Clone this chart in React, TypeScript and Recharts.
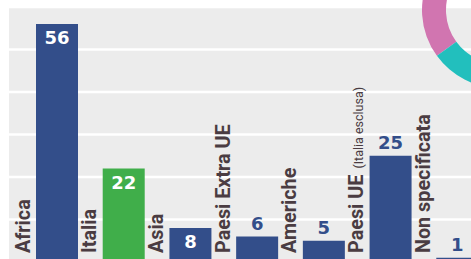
import React from 'react';
import { BarChart, Bar, XAxis, YAxis, CartesianGrid, LabelList, Cell, PieChart, Pie } from 'recharts';

const categories = ['Africa', 'Italia', 'Asia', 'Paesi Extra UE', 'Americhe', 'Paesi UE', 'Non specificata'];
const notes = ['', '', '', '', '', '(Italia esclusa)', ''];
const counts = [56, 22, 8, 6, 5, 25, 1];
const yTicks = [10, 20, 30, 40, 50];

// only a corner of the donut shows in the picture
const donutNames = ['altro', 'rosa', 'verde acqua', 'resto'];
const donutValues = [17, 18, 30, 35];
const donutColors = ['#f0a23a', '#d175b0', '#22bfbd', '#8a6bb0'];

const BLUE = '#334e8a';
const GREEN = '#40ae4a';
const TEXT = '#4a3c42';
const insideLabel = new Set(['Africa', 'Italia', 'Asia']);

const data = categories.map((name, i) => ({ name, note: notes[i], value: counts[i] }));
const donut = donutNames.map((name, i) => ({ name, value: donutValues[i] }));

const CategoryLabel = (props: any) => {
  const { x, y, height, index } = props;
  const bx = x - 6.5;
  const by = y + height - 9;
  const row = data[index];
  return (
    <text
      x={bx}
      y={by}
      transform={`rotate(-90 ${bx} ${by})`}
      fill={TEXT}
      fontFamily="Roboto, sans-serif"
      fontWeight={700}
      fontSize={19.8}
      textAnchor="start"
    >
      {row.name}
      {row.note ? (
        <tspan fontWeight={400} fontSize={12.5} dx={6}>
          {row.note}
        </tspan>
      ) : null}
    </text>
  );
};

const ValueLabel = (props: any) => {
  const { x, y, width, index, value } = props;
  const inside = insideLabel.has(data[index].name);
  return (
    <text
      x={x + width / 2}
      y={inside ? y + 20 : y - 7}
      fill={inside ? '#fff' : BLUE}
      fontFamily="'DejaVu Sans', sans-serif"
      fontWeight={700}
      fontSize={18}
      textAnchor="middle"
    >
      {value}
    </text>
  );
};

export default function App() {
  return (
    <div style={{ position: 'absolute', left: 0, top: 0, width: 471, height: 259, overflow: 'hidden', background: '#fff' }}>
      <BarChart width={491} height={270} data={data} margin={{ top: 7, right: 0, bottom: 8, left: 9 }}>
        <CartesianGrid vertical={false} fill="#ececec" stroke="#fff" strokeWidth={2.5} />
        <XAxis dataKey="name" hide padding={{ left: 15, right: 0 }} />
        <YAxis hide domain={[0, 60]} ticks={yTicks} />
        <Bar dataKey="value" barSize={42} isAnimationActive={false}>
          {data.map((d, i) => (
            <Cell key={`c-${i}`} fill={d.name === 'Italia' ? GREEN : BLUE} />
          ))}
          <LabelList dataKey="name" content={<CategoryLabel />} />
          <LabelList dataKey="value" content={<ValueLabel />} />
        </Bar>
      </BarChart>
      <div style={{ position: 'absolute', left: 395, top: -95 }}>
        <PieChart width={200} height={200}>
          <Pie
            data={donut}
            dataKey="value"
            cx={100}
            cy={100}
            innerRadius={54}
            outerRadius={78}
            startAngle={90}
            endAngle={450}
            stroke="none"
            isAnimationActive={false}
          >
            {donut.map((d, i) => (
              <Cell key={`d-${i}`} fill={donutColors[i]} />
            ))}
          </Pie>
        </PieChart>
      </div>
    </div>
  );
}
